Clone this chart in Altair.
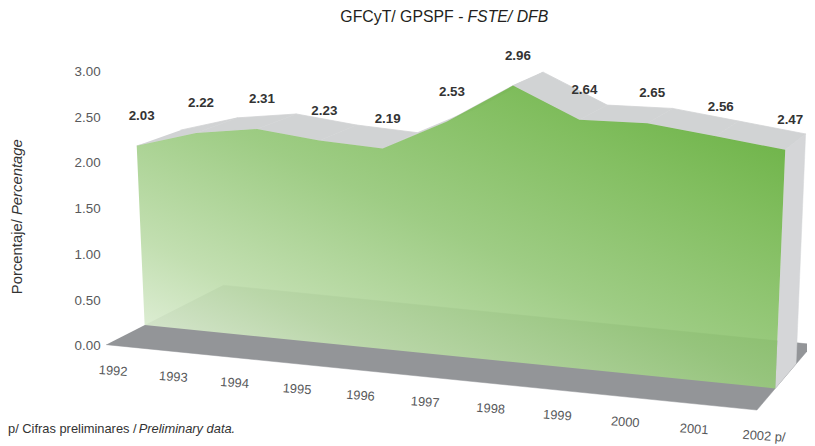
import altair as alt
import pandas as pd

# ---------------- data ----------------
years = ["1992", "1993", "1994", "1995", "1996", "1997", "1998", "1999", "2000", "2001", "2002 p/"]
values = [2.03, 2.22, 2.31, 2.23, 2.19, 2.53, 2.96, 2.64, 2.65, 2.56, 2.47]
y_ticks = [0.0, 0.5, 1.0, 1.5, 2.0, 2.5, 3.0]

title_main = "GFCyT/ GPSPF -"
title_italic = "FSTE/ DFB"
ytitle_main = "Porcentaje/"
ytitle_italic = "Percentage"
note_main = "p/ Cifras preliminares /"
note_italic = "Preliminary data."

# ---------------- layout / styling ----------------
PAD_LEFT = 95
W, H = 712, 438
OX, OY = 8 + PAD_LEFT, 8          # page -> plot offset
Y0_PAGE = 347.0                   # where value 0 sits on the page
PX_PER_UNIT = 92.333
Y_DOMAIN = [-(OY + H - Y0_PAGE) / PX_PER_UNIT, (Y0_PAGE - OY) / PX_PER_UNIT]

# pseudo-3D camera (perspective constants)
CAM = dict(bx0=146.0, dxi=58.4, dxi2=0.53, by0=326.0, slope=0.1005,
           ux0=-3.94, ux1=0.8, k0=89.2, k1=0.84, vpx=1364.0, vpy=-293.0)
LAM_TOP = 0.036
LAM_FLOOR_FRONT = -0.032
LAM_FLOOR_BACK = 0.065

FLOOR = "#939598"
TOP = "#d1d3d4"
SIDE = "#d5d6d8"
FONT = "Liberation Sans"
TXT = "#333333"
AXIS_TXT = "#58595b"

n = len(values)
last = n - 1

# ---------------- polygon table built from the arrays ----------------
rows = []


def add(part, pid, k, i, v, lam):
    rows.append(dict(part=part, pid=pid, k=k, i=i, v=v, lam=lam))


# floor
add("floor", "floor", 0, 0, 0.0, LAM_FLOOR_FRONT)
add("floor", "floor", 1, last, 0.0, LAM_FLOOR_FRONT)
add("floor", "floor", 2, last, 0.0, LAM_FLOOR_BACK)
add("floor", "floor", 3, 0, 0.0, LAM_FLOOR_BACK)
# top surfaces
for j in range(last):
    pid = f"top{j}"
    add("top", pid, 0, j, values[j], 0.0)
    add("top", pid, 1, j + 1, values[j + 1], 0.0)
    add("top", pid, 2, j + 1, values[j + 1], LAM_TOP)
    add("top", pid, 3, j, values[j], LAM_TOP)
# right side
add("side", "side", 0, last, 0.0, 0.0)
add("side", "side", 1, last, values[last], 0.0)
add("side", "side", 2, last, values[last], LAM_TOP)
add("side", "side", 3, last, 0.0, LAM_TOP)
# front face
add("front", "front", 0, 0, 0.0, 0.0)
for j in range(n):
    add("front", "front", j + 1, j, values[j], 0.0)
add("front", "front", n + 1, last, 0.0, 0.0)

poly = pd.DataFrame(rows)

labels = pd.DataFrame({"i": list(range(n)), "v": values, "year": years})
vlab = labels.assign(lam=0.0)
xlab = labels.assign(v=0.0, lam=LAM_FLOOR_FRONT)


def proj(ch):
    c = CAM
    return (
        ch.transform_calculate(bx=f"{c['bx0']} + {c['dxi']}*datum.i + {c['dxi2']}*datum.i*datum.i")
        .transform_calculate(by=f"{c['by0']} + {c['slope']}*(datum.bx - {c['bx0']})")
        .transform_calculate(fx=f"datum.bx + datum.v*({c['ux0']} + {c['ux1']}*datum.i)")
        .transform_calculate(fy=f"datum.by - datum.v*({c['k0']} + {c['k1']}*datum.i)")
        .transform_calculate(sx=f"datum.fx + datum.lam*({c['vpx']} - datum.fx)")
        .transform_calculate(sy=f"datum.fy + datum.lam*({c['vpy']} - datum.fy)")
        .transform_calculate(xu=f"datum.sx - {OX}")
        .transform_calculate(yu=f"({Y0_PAGE} - datum.sy)/{PX_PER_UNIT}")
    )


xs = alt.Scale(domain=[0, W], nice=False, zero=False)
ys = alt.Scale(domain=Y_DOMAIN, nice=False, zero=False)
X = alt.X("xu:Q", scale=xs, axis=None)
Y = alt.Y(
    "yu:Q", scale=ys,
    axis=alt.Axis(values=y_ticks, format=".2f", title=None, domain=False, ticks=False,
                  grid=False, labelFont=FONT, labelFontSize=13.5, labelColor=AXIS_TXT,
                  labelPadding=2),
)


def polys(part, **mk):
    return proj(alt.Chart(poly).transform_filter(f"datum.part == '{part}'")).mark_line(**mk).encode(
        x=X, y=Y, order=alt.Order("k:Q"), detail="pid:N"
    )


floor = polys("floor", fill=FLOOR, stroke=FLOOR, strokeWidth=0.5)
top = polys("top", fill=TOP, stroke=TOP, strokeWidth=0.8)
side = polys("side", fill=SIDE, stroke=SIDE, strokeWidth=0.5)

grad = alt.Gradient(
    gradient="linear", x1=0, y1=1, x2=1, y2=0,
    stops=[
        alt.GradientStop(color="#eef6ea", offset=0),
        alt.GradientStop(color="#bddcaa", offset=0.25),
        alt.GradientStop(color="#96c87a", offset=0.5),
        alt.GradientStop(color="#78b953", offset=0.75),
        alt.GradientStop(color="#58a82d", offset=1),
    ],
)
front = polys("front", fill=grad, fillOpacity=0.92, strokeOpacity=0, strokeWidth=0)

value_text = proj(alt.Chart(vlab)).mark_text(
    font=FONT, fontSize=13.5, fontWeight="bold", color=TXT, dx=5, dy=-30, baseline="middle"
).encode(x=X, y=Y, text=alt.Text("v:Q", format=".2f"))

year_text = proj(alt.Chart(xlab)).mark_text(
    font=FONT, fontSize=13, color=AXIS_TXT, dx=9, dy=26, angle=4, baseline="middle"
).encode(x=X, y=Y, text="year:N")

one = pd.DataFrame({"a": [0]})


def free_text(txt, px, py, **mk):
    return alt.Chart(one).mark_text(text=txt, font=FONT, **mk).encode(
        x=alt.value(px - OX), y=alt.value(py - OY)
    )


t1 = free_text(title_main, 468, 19.5, fontSize=16, color="#231f20", align="right", baseline="alphabetic")
t2 = free_text(title_italic, 472, 19.5, fontSize=16, color="#231f20", align="left", baseline="alphabetic",
               fontStyle="italic")
yt1 = free_text(ytitle_main, 17, 219, fontSize=15, color=TXT, align="right", baseline="middle", angle=270)
yt2 = free_text(ytitle_italic, 17, 215, fontSize=15, color=TXT, align="left", baseline="middle", angle=270,
                fontStyle="italic")
n1 = free_text(note_main, 8, 435, fontSize=13, color=TXT, align="left", baseline="alphabetic")
n2 = free_text(note_italic, 140, 435, fontSize=13, color=TXT, align="left", baseline="alphabetic",
               fontStyle="italic")

chart = (
    alt.layer(floor, top, side, front, value_text, year_text, t1, t2, yt1, yt2, n1, n2)
    .properties(width=W, height=H, autosize=alt.AutoSizeParams(type="none"),
                padding={"left": PAD_LEFT, "top": 0, "right": 0, "bottom": 0},
                background="white")
    .configure_view(strokeWidth=0)
)

chart.save("out.html", embed_options={"renderer": "svg", "actions": False})
